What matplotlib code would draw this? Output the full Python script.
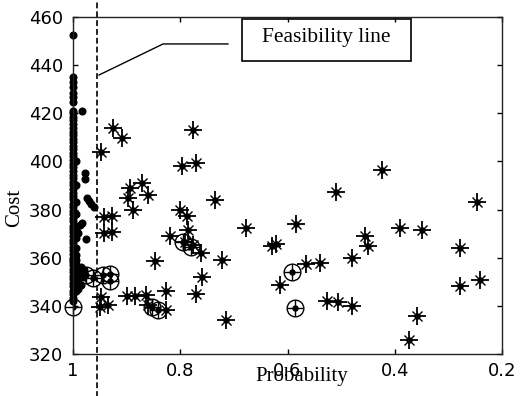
import matplotlib
matplotlib.use('Agg')
import matplotlib.pyplot as plt
from matplotlib.patches import Rectangle

# dots (solutions close to probability 1)
dot_x = [1.0]*62 + [0.994]*15 + [0.99, 0.99, 0.99, 0.99, 0.99,
         0.983, 0.978, 0.978, 0.973, 0.970, 0.966, 0.960, 0.984, 0.975, 0.987,
         0.985, 0.982, 0.980, 0.985]
dot_y = [342, 343.4, 345, 346.3, 348.1, 349.4, 351, 352.6, 354, 355.3,
         357.1, 358.4, 360, 361.6, 363, 364.4, 366.2, 367.5, 369, 370.6,
         372, 373.3, 375.1, 376.4, 378, 379.6, 381, 382.4, 384.2, 385.5,
         387, 388.6, 390, 391.3, 393.1, 394.4, 396, 397.6, 399, 400.4,
         402.2, 403.5, 405, 406.6, 408, 409.3, 411.1, 412.4, 414, 415.6,
         417, 418.4, 420, 421, 424.5, 426.7, 428.6, 430.8, 433, 435,
         359.2, 452.5,
         346, 349, 351, 353, 355, 357, 359, 361, 364, 368, 372, 378, 383, 390, 400,
         347, 350, 354, 356, 370.4,
         421, 395.3, 392.6, 385, 383.5, 382.2, 381, 374.3, 367.6, 373.6,
         356, 352, 355, 348.5]

# asterisks
star_x = [0.925, 0.909, 0.948, 0.894, 0.872, 0.860, 0.897, 0.889, 0.943, 0.928,
          0.943, 0.928, 0.800, 0.788, 0.785, 0.819, 0.791, 0.777, 0.762, 0.847,
          0.723, 0.760, 0.771, 0.899, 0.885, 0.863, 0.826, 0.826, 0.714, 0.736,
          0.677, 0.947, 0.949, 0.935, 0.777, 0.797, 0.771, 0.423, 0.509, 0.247,
          0.584, 0.629, 0.621, 0.390, 0.350, 0.455, 0.449, 0.278, 0.479, 0.565,
          0.539, 0.614, 0.278, 0.241, 0.527, 0.505, 0.479, 0.359, 0.374, 0.860]
star_y = [414, 409.6, 404, 389, 391, 386, 385, 379.8, 377, 377.3,
          370.4, 370.8, 379.8, 377.5, 371.5, 369, 366.6, 365.3, 362, 358.5,
          359, 352.1, 345, 344, 344.2, 344.5, 346.2, 338.3, 334, 384,
          372.5, 343.8, 339.6, 340.2, 413.1, 398.1, 399.2, 396.4, 387.3, 383,
          374.2, 365, 365.8, 372.3, 371.5, 369, 365, 364, 359.8, 357.3,
          358, 348.8, 348.1, 350.7, 342.2, 341.7, 339.8, 335.6, 325.8, 340.5]

# circled points
circ_x = [1.0, 0.586, 0.592, 0.962, 0.944, 0.931, 0.931, 0.975, 0.852, 0.841, 0.795, 0.780]
circ_y = [339.6, 339, 354.2, 351.4, 352.8, 353.3, 350.3, 353, 339.4, 338.3, 366.5, 364.5]

xticks = [1, 0.8, 0.6, 0.4, 0.2]
xticklabels = ['1', '0.8', '0.6', '0.4', '0.2']
yticks = [320, 340, 360, 380, 400, 420, 440, 460]

feas_x = 0.955
leader_x = [0.9515, 0.832, 0.711]
leader_y = [435.9, 448.8, 448.8]

fig = plt.figure(figsize=(5.2, 3.96), dpi=100)
ax = fig.add_axes([0.1404, 0.1061, 0.825, 0.851])

ax.plot(dot_x, dot_y, 'o', color='k', ms=4.8, clip_on=False)
ax.plot(circ_x, circ_y, 'o', mfc='none', mec='k', ms=12, mew=1, clip_on=False)
ax.plot(circ_x, circ_y, '+', color='k', ms=11, mew=1, clip_on=False)
ax.plot(star_x, star_y, '+', color='k', ms=13, mew=1.3)
ax.plot(star_x, star_y, 'x', color='k', ms=7, mew=1)
ax.plot(star_x + circ_x, star_y + circ_y, 'o', color='k', ms=3.6)

ax.axvline(feas_x, ymin=-0.13, ymax=1.06, color='k', lw=1.2,
           dashes=(3.5, 1.8), clip_on=False)
ax.plot(leader_x, leader_y, color='k', lw=1.0)

ax.add_patch(Rectangle((0.685, 441.7), 0.370 - 0.685, 459.2 - 441.7,
                       fill=False, ec='k', lw=1.2, zorder=5))
ax.text(0.527, 449.7, 'Feasibility line', ha='center', va='baseline',
        family='Liberation Serif', fontsize=15.5, zorder=6)

ax.set_xlim(1, 0.2)
ax.set_ylim(320, 460)
ax.set_xticks(xticks)
ax.set_xticklabels(xticklabels)
ax.set_yticks(yticks)
ax.tick_params(direction='in', length=3.6, width=1, top=True, right=True,
               labelsize=13, colors='k')
ax.tick_params(axis='x', pad=5.5)
ax.tick_params(axis='y', pad=7)
for s in ax.spines.values():
    s.set_linewidth(1.0)
    s.set_color('#222222')

ax.set_xlabel('Probability', family='Liberation Serif', fontsize=15)
ax.xaxis.set_label_coords(0.534, -0.0816)
ax.xaxis.label.set_va('baseline')
ax.set_ylabel('Cost', family='Liberation Serif', fontsize=15)
ax.yaxis.set_label_coords(-0.135, 0.433)
ax.yaxis.label.set_va('center')

fig.savefig('out.png', dpi=100)
